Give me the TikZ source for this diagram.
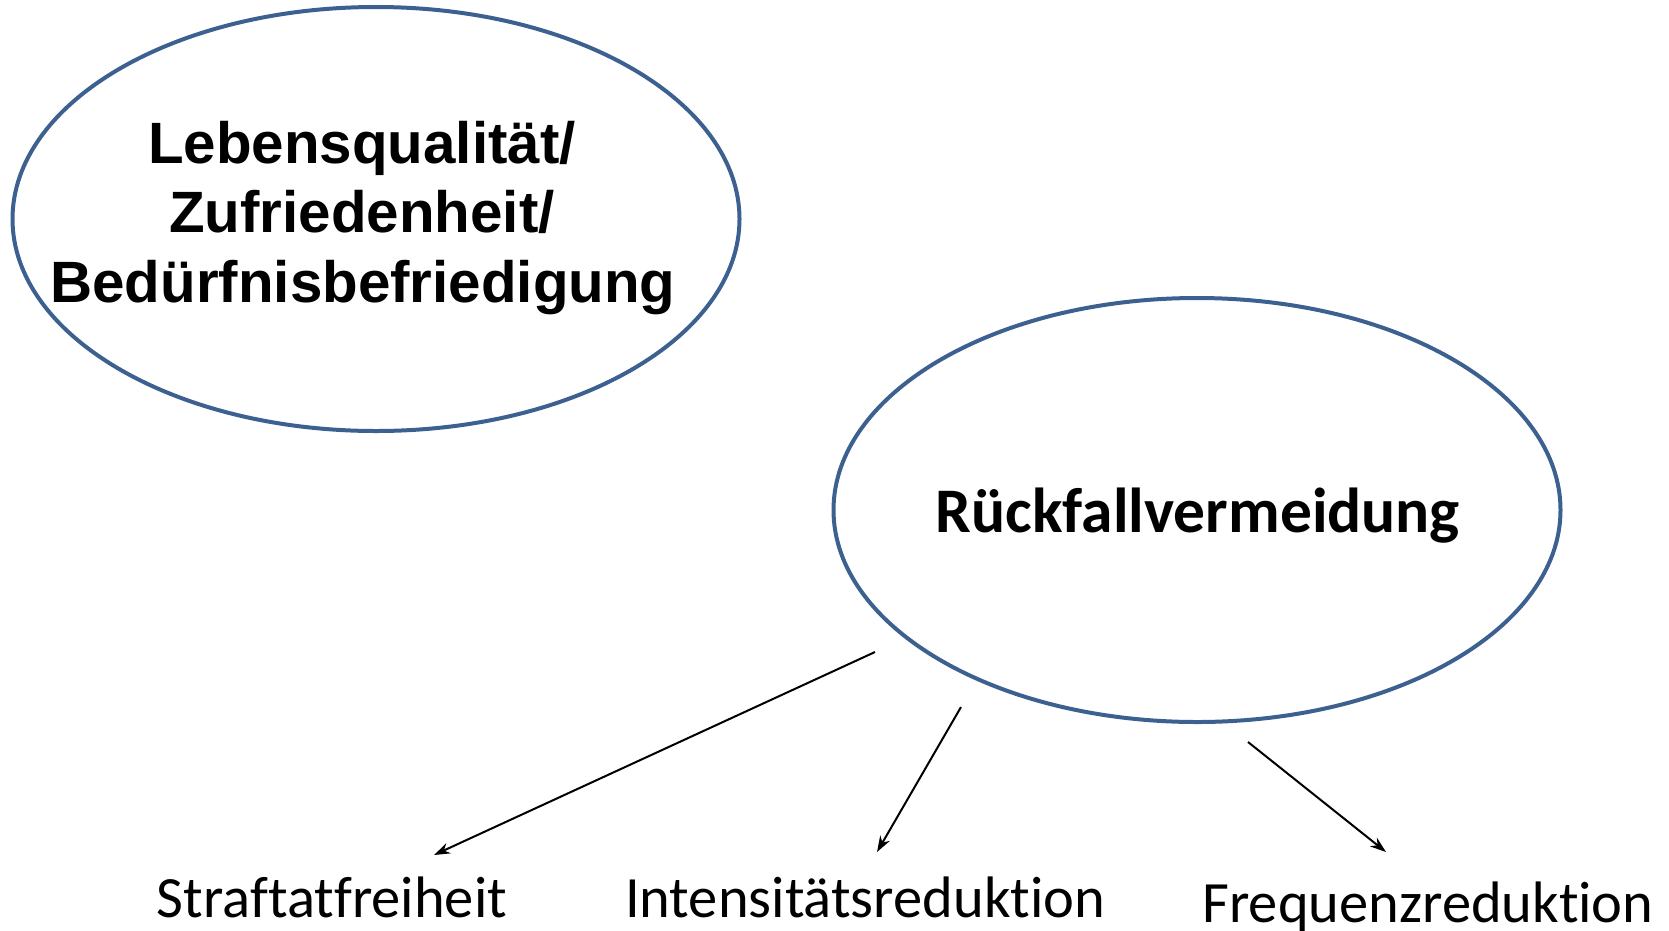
\documentclass[tikz,border=0pt]{standalone}
\usepackage{fontspec}
\usetikzlibrary{shapes.geometric,arrows.meta}
\newfontfamily\arialfont{Liberation Sans}
\newfontfamily\calfont{Carlito}[RawFeature={-liga;-dlig}]
\definecolor{ellblue}{HTML}{3C6191}
\tikzset{
  oval/.style={draw=ellblue, line width=4pt, ellipse, inner sep=0pt,
    minimum width=727pt, minimum height=424pt},
  bigtxt/.style={font=\arialfont\bfseries\fontsize{58.3}{70}\selectfont, inner sep=0pt, anchor=base},
  headtxt/.style={font=\calfont\bfseries\fontsize{63.5}{76}\selectfont, inner sep=0pt, anchor=base},
  leaftxt/.style={font=\calfont\fontsize{58.5}{70}\selectfont, inner sep=0pt, anchor=base},
  conn/.style={line width=2pt, -{Stealth[length=16pt,width=11pt]}}
}
\begin{document}
\begin{tikzpicture}[x=1pt,y=-1pt]
\useasboundingbox (0,0) rectangle (1669,930);
\node[oval] (lq) at (376,219) {};
\node[oval] (rv) at (1197,510) {};
\node[bigtxt] (t1) at (362,163) {Lebensqualität/};
\node[bigtxt] (t2) at (362,232) {Zufriedenheit/};
\node[bigtxt] (t3) at (363,302) {Bedürfnisbefriedigung};
\node[headtxt] (rt) at (1198,532) {Rückfallvermeidung};
\node[leaftxt] (s) at (332,917) {Straftatfreiheit};
\node[leaftxt] (i) at (865,917) {Intensitätsreduktion};
\node[leaftxt] (f) at (1428,922) {Frequenzreduktion};
\coordinate (a1s) at (875,652);
\coordinate (a1e) at (434,855);
\coordinate (a2s) at (961,707);
\coordinate (a2e) at (877,852);
\coordinate (a3s) at (1248,742);
\coordinate (a3e) at (1386,852);
\draw[conn] (a1s) -- (a1e);
\draw[conn] (a2s) -- (a2e);
\draw[conn] (a3s) -- (a3e);
\end{tikzpicture}
\end{document}
